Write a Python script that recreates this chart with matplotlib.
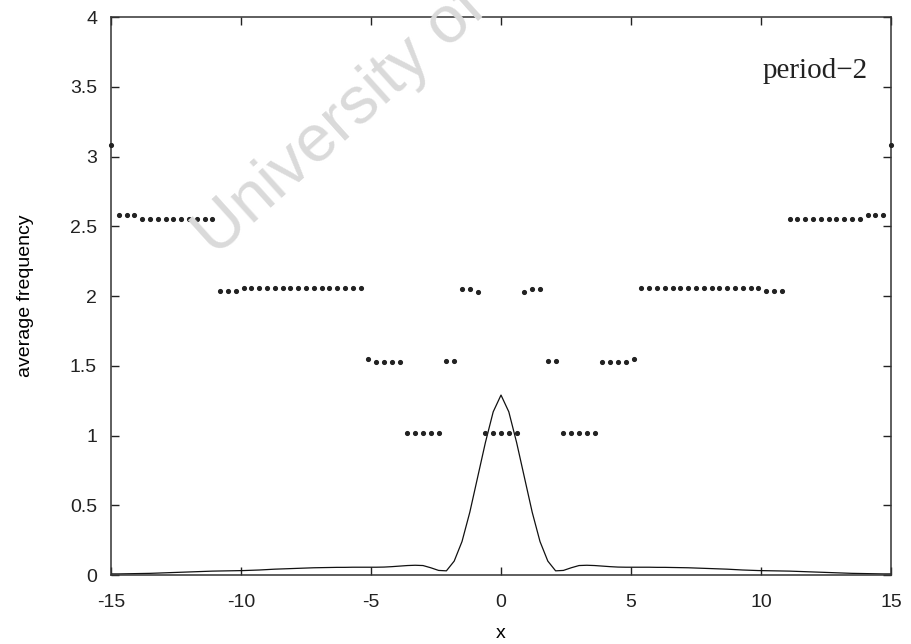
import numpy as np
import matplotlib
matplotlib.use("Agg")
import matplotlib.pyplot as plt

# sample grid, step 0.3 from -15 to 15
x = np.round(np.linspace(-15, 15, 101), 1)

# average frequency of each oscillator (dots)
freq = [3.08,
        2.578, 2.578, 2.578,
        2.554, 2.554, 2.554, 2.554, 2.554, 2.554, 2.554, 2.554, 2.554, 2.554,
        2.038, 2.038, 2.038,
        2.055, 2.055, 2.055, 2.055, 2.055, 2.055, 2.055, 2.055,
        2.055, 2.055, 2.055, 2.055, 2.055, 2.055, 2.055, 2.055,
        1.548,
        1.529, 1.529, 1.529, 1.529,
        1.02, 1.02, 1.02, 1.02, 1.02,
        1.534, 1.534,
        2.052, 2.052,
        2.03,
        1.02, 1.02, 1.02, 1.02, 1.02,
        2.03,
        2.052, 2.052,
        1.534, 1.534,
        1.02, 1.02, 1.02, 1.02, 1.02,
        1.529, 1.529, 1.529, 1.529,
        1.548,
        2.055, 2.055, 2.055, 2.055, 2.055, 2.055, 2.055, 2.055,
        2.055, 2.055, 2.055, 2.055, 2.055, 2.055, 2.055, 2.055,
        2.038, 2.038, 2.038,
        2.554, 2.554, 2.554, 2.554, 2.554, 2.554, 2.554, 2.554, 2.554, 2.554,
        2.578, 2.578, 2.578,
        3.08]

# amplitude profile (solid line)
amp = [0.008, 0.008, 0.009, 0.010, 0.011, 0.012, 0.014, 0.016, 0.018, 0.020,
       0.022, 0.024, 0.026, 0.028, 0.029, 0.030, 0.031, 0.032, 0.034, 0.036,
       0.039, 0.042, 0.044, 0.046, 0.048, 0.050, 0.052, 0.053, 0.054, 0.055,
       0.055, 0.056, 0.056, 0.056, 0.056, 0.057, 0.060, 0.064, 0.068, 0.070,
       0.068, 0.052, 0.033, 0.030, 0.10, 0.24, 0.45, 0.70, 0.95, 1.17,
       1.29,
       1.17, 0.95, 0.70, 0.45, 0.24, 0.10, 0.030, 0.033, 0.052, 0.068,
       0.070, 0.068, 0.064, 0.060, 0.057, 0.056, 0.056, 0.056, 0.056, 0.055,
       0.055, 0.054, 0.053, 0.052, 0.050, 0.048, 0.046, 0.044, 0.042, 0.039,
       0.036, 0.034, 0.032, 0.031, 0.030, 0.029, 0.028, 0.026, 0.024, 0.022,
       0.020, 0.018, 0.016, 0.014, 0.012, 0.011, 0.010, 0.009, 0.008, 0.008]

xticks = [-15, -10, -5, 0, 5, 10, 15]
yticks = [0, 0.5, 1, 1.5, 2, 2.5, 3, 3.5, 4]
ylabels = ["0", "0.5", "1", "1.5", "2", "2.5", "3", "3.5", "4"]

plt.rcParams["font.family"] = ["Liberation Sans", "DejaVu Sans"]

fig = plt.figure(figsize=(9.12, 6.44), dpi=100)
ax = fig.add_axes([0.1217, 0.1071, 0.8553, 0.8665])

# faint repository watermark behind the data
fig.text(0.236, 0.600, "University of", fontsize=48, color="#dadada",
         rotation=42, rotation_mode="anchor", ha="left", va="baseline", zorder=0)
ax.patch.set_alpha(0)

ax.plot(x, amp, color="#111111", lw=0.9, zorder=2)
ax.plot(x, freq, ls="none", marker="o", ms=2.7, color="#222222",
        mec="#222222", clip_on=False, zorder=3)

ax.set_xlim(-15, 15)
ax.set_ylim(0, 4)
ax.set_xticks(xticks)
ax.set_xticklabels([str(t) for t in xticks])
ax.set_yticks(yticks)
ax.set_yticklabels(ylabels)
ax.tick_params(direction="in", length=6, width=1, top=True, right=True,
               labelsize=14, colors="#222222", pad=10)
ax.tick_params(axis="x", pad=14)
for s in ax.spines.values():
    s.set_linewidth(1.1)
    s.set_color("#333333")

ax.set_xlabel("x", fontsize=14, labelpad=10)
ax.set_ylabel("average frequency", fontsize=14, labelpad=26)

ax.text(14.1, 3.56, "period\u22122", family=["Liberation Serif", "DejaVu Serif"],
        fontsize=21, ha="right", va="baseline", color="#222222")

fig.savefig("out.png", dpi=100)
